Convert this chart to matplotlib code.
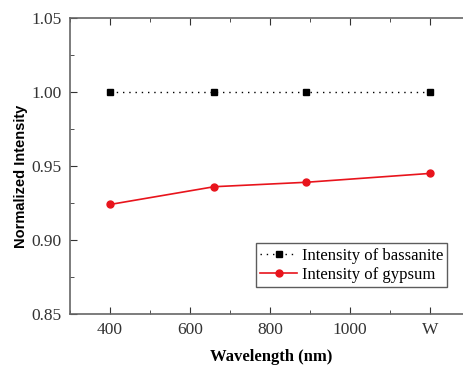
import matplotlib
matplotlib.use("Agg")
import matplotlib.pyplot as plt
from matplotlib.ticker import MultipleLocator, FixedLocator, FixedFormatter

wavelength = [400, 660, 890, 1200]
bassanite = [1.000, 1.000, 1.000, 1.000]
gypsum = [0.924, 0.936, 0.939, 0.945]
xtick_pos = [400, 600, 800, 1000, 1200]
xtick_labels = ["400", "600", "800", "1000", "W"]
ytick_pos = [0.85, 0.90, 0.95, 1.00, 1.05]

fig = plt.figure(figsize=(4.63, 3.70), dpi=100)
ax = fig.add_axes([70/463, 56/370, 1.02 - 70/463, 296/370])

ax.plot(wavelength, bassanite, color="black", linestyle=(0, (1, 3.5)), linewidth=1.0,
        marker="s", markersize=4.5, label="Intensity of bassanite")
ax.plot(wavelength, gypsum, color="#e8141c", linestyle="-", linewidth=1.2,
        marker="o", markersize=5, label="Intensity of gypsum")

ax.set_xlim(300, 1305)
ax.set_ylim(0.85, 1.05)
ax.xaxis.set_major_locator(FixedLocator(xtick_pos))
ax.xaxis.set_major_formatter(FixedFormatter(xtick_labels))
ax.xaxis.set_minor_locator(MultipleLocator(100))
ax.yaxis.set_major_locator(FixedLocator(ytick_pos))
ax.yaxis.set_minor_locator(MultipleLocator(0.025))
ax.set_yticklabels([f"{v:.2f}" for v in ytick_pos])

ax.tick_params(which="both", direction="in", top=True, right=False, color="#333333")
ax.tick_params(which="major", length=5, width=0.8, pad=6)
ax.tick_params(which="minor", length=3, width=0.6)
for lab in ax.get_xticklabels() + ax.get_yticklabels():
    lab.set_fontfamily("Liberation Serif")
    lab.set_fontsize(12.5)
    lab.set_color("#333333")

for s in ["left", "bottom", "top"]:
    ax.spines[s].set_color("#666666")
    ax.spines[s].set_linewidth(1.2)
ax.spines["right"].set_visible(False)

ax.set_xlabel("Wavelength (nm)", fontfamily="Liberation Serif", fontweight="bold",
              fontsize=12, labelpad=8)
ax.set_ylabel("Normalized Intensity", fontfamily="Liberation Sans", fontweight="bold",
              fontsize=10.5)
ax.yaxis.set_label_coords(-0.105, 0.466)

leg = ax.legend(loc="lower left", bbox_to_anchor=(185/400, 27/296),
                prop={"family": "Liberation Serif", "size": 12},
                frameon=True, fancybox=False, edgecolor="#333333",
                handlelength=2.2, handletextpad=0.3, borderpad=0.25, labelspacing=0.2,
                borderaxespad=0)
leg.get_frame().set_linewidth(1.0)

fig.savefig("out.png", dpi=100)
